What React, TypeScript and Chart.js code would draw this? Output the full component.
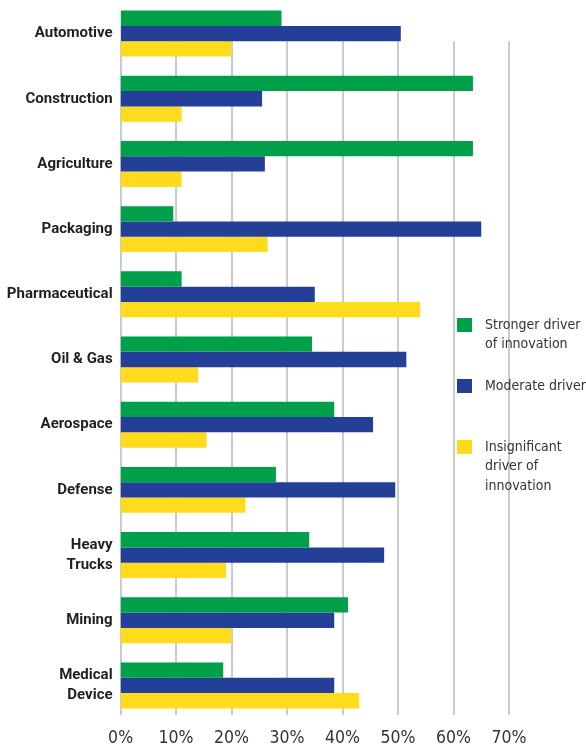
import React, { useEffect, useRef } from 'react';
import { Chart, registerables } from 'chart.js';

Chart.register(...registerables);

// Industries (multi-line names are given as arrays of lines)
const categories: (string | string[])[] = [
  'Automotive',
  'Construction',
  'Agriculture',
  'Packaging',
  'Pharmaceutical',
  'Oil & Gas',
  'Aerospace',
  'Defense',
  ['Heavy', 'Trucks'],
  'Mining',
  ['Medical', 'Device'],
];

// Share of respondents (%) per industry
const strongerDriver = [29, 63.5, 63.5, 9.5, 11, 34.5, 38.5, 28, 34, 41, 18.5];
const moderateDriver = [50.5, 25.5, 26, 65, 35, 51.5, 45.5, 49.5, 47.5, 38.5, 38.5];
const insignificantDriver = [20, 11, 11, 26.5, 54, 14, 15.5, 22.5, 19, 20, 43];

const seriesNames: string[][] = [
  ['Stronger driver', 'of innovation'],
  ['Moderate driver'],
  ['Insignificant', 'driver of', 'innovation'],
];
const seriesColors = ['#00a04b', '#233f97', '#fedb1c'];

const xMin = 0;
const xMax = 70;
const xStep = 10;

const CONDENSED = '"DejaVu Sans Condensed", "Roboto", sans-serif';
const LABEL_FONT = '"Roboto", "DejaVu Sans Condensed", sans-serif';

// Vertical gridlines that begin at the top of the first category's last bar
const gridPlugin = {
  id: 'partialGrid',
  beforeDatasetsDraw(chart: any) {
    const { ctx, chartArea } = chart;
    const xs = chart.scales.x;
    const meta = chart.getDatasetMeta(chart.data.datasets.length - 1);
    const first: any = meta.data[0];
    if (!first) return;
    const top = first.y - first.height / 2;
    const bottom = chartArea.bottom - 3;
    ctx.save();
    ctx.strokeStyle = '#cbcbcf';
    ctx.lineWidth = 2;
    xs.ticks.forEach((t: any) => {
      const px = Math.round(xs.getPixelForValue(t.value));
      ctx.beginPath();
      ctx.moveTo(px, top);
      ctx.lineTo(px, bottom);
      ctx.stroke();
    });
    ctx.restore();
  },
};

// Legend drawn at the right, with wrapped labels
const legendPlugin = {
  id: 'sideLegend',
  afterDraw(chart: any) {
    const { ctx } = chart;
    const swatchX = 457;
    const swatchSize = 14;
    const textX = 485;
    const firstY = 325;
    const itemGap = 61;
    const lineH = 19.5;
    ctx.save();
    ctx.font = `14px ${CONDENSED}`;
    ctx.textBaseline = 'middle';
    ctx.textAlign = 'left';
    chart.data.datasets.forEach((ds: any, i: number) => {
      const cy = firstY + i * itemGap;
      ctx.fillStyle = ds.backgroundColor;
      ctx.fillRect(swatchX, cy - swatchSize / 2, swatchSize + 1, swatchSize);
      ctx.fillStyle = '#333333';
      seriesNames[i].forEach((line, j) => {
        ctx.fillText(line, textX, cy + j * lineH);
      });
    });
    ctx.restore();
  },
};

export default function App() {
  const canvasRef = useRef<HTMLCanvasElement | null>(null);

  useEffect(() => {
    if (!canvasRef.current) return;
    const chart = new Chart(canvasRef.current, {
      type: 'bar',
      data: {
        labels: categories,
        datasets: [
          { label: 'Stronger driver of innovation', data: strongerDriver, backgroundColor: seriesColors[0] },
          { label: 'Moderate driver', data: moderateDriver, backgroundColor: seriesColors[1] },
          { label: 'Insignificant driver of innovation', data: insignificantDriver, backgroundColor: seriesColors[2] },
        ],
      },
      options: {
        indexAxis: 'y',
        responsive: false,
        animation: false,
        devicePixelRatio: 1,
        layout: { padding: { top: 1, right: 77, left: 0, bottom: 0 } },
        datasets: {
          bar: { categoryPercentage: 0.705, barPercentage: 1, borderWidth: 0 },
        },
        plugins: {
          legend: { display: false },
          tooltip: { enabled: false },
        },
        scales: {
          x: {
            min: xMin,
            max: xMax,
            grid: { display: false, drawTicks: false },
            border: { display: false },
            ticks: {
              stepSize: xStep,
              padding: 10,
              color: '#333333',
              font: { family: CONDENSED, size: 17.5, lineHeight: 1.2 },
              callback: (v: any) => `${v}%`,
            },
            afterFit: (s: any) => {
              s.height = 30;
            },
          },
          y: {
            grid: { display: false, drawTicks: false },
            border: { display: false },
            ticks: {
              padding: 8,
              color: '#231f20',
              font: { family: LABEL_FONT, size: 15, weight: 'bold', lineHeight: 1.35 },
            },
            afterFit: (s: any) => {
              s.width = 120.6;
              // keep the plot area flush with the top edge
              s.paddingTop = 0;
              s.paddingBottom = 0;
            },
          },
        },
      },
      plugins: [gridPlugin, legendPlugin],
    });
    return () => chart.destroy();
  }, []);

  return (
    <div style={{ position: 'fixed', left: 0, top: 0, width: 586, height: 748, background: '#ffffff' }}>
      <canvas ref={canvasRef} width={586} height={748} />
    </div>
  );
}
